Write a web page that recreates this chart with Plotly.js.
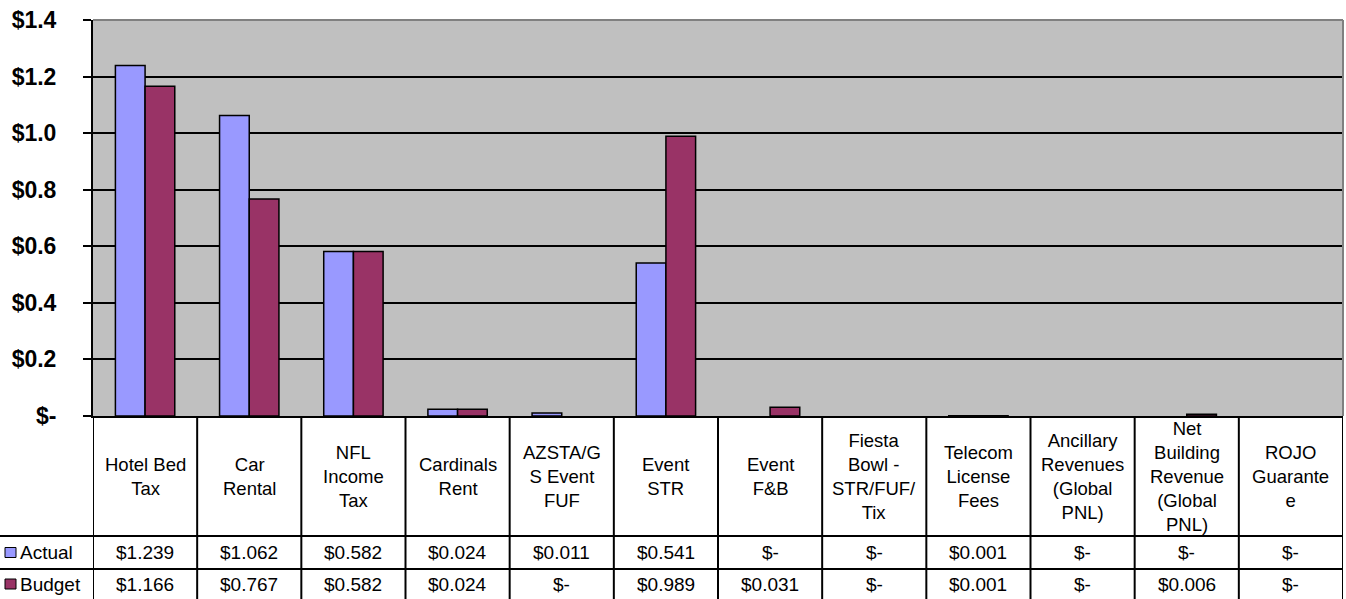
<!DOCTYPE html>
<html>
<head>
<meta charset="utf-8">
<script src="https://cdn.plot.ly/plotly-3.0.1.min.js"></script>
<style>html,body{margin:0;padding:0;background:#fff;}#chart{width:1346px;height:599px;}</style>
</head>
<body>
<div id="chart"></div>
<script>
const categories = ["Hotel Bed Tax","Car Rental","NFL Income Tax","Cardinals Rent","AZSTA/GS Event FUF","Event STR","Event F&B","Fiesta Bowl - STR/FUF/Tix","Telecom License Fees","Ancillary Revenues (Global PNL)","Net Building Revenue (Global PNL)","ROJO Guarantee"];
const headerLabels = ["Hotel Bed<br>Tax","Car<br>Rental","NFL<br>Income<br>Tax","Cardinals<br>Rent","AZSTA/G<br>S Event<br>FUF","Event<br>STR","Event<br>F&B","Fiesta<br>Bowl -<br>STR/FUF/<br>Tix","Telecom<br>License<br>Fees","Ancillary<br>Revenues<br>(Global<br>PNL)","Net<br>Building<br>Revenue<br>(Global<br>PNL)","ROJO<br>Guarante<br>e"];
const actual = [1.239,1.062,0.582,0.024,0.011,0.541,0,0,0.001,0,0,0];
const budget = [1.166,0.767,0.582,0.024,0,0.989,0.031,0,0.001,0,0.006,0];
const seriesNames = ["Actual","Budget"];
const yTickVals = [0,0.2,0.4,0.6,0.8,1.0,1.2,1.4];

const colors = ["#9999FF","#993366"];
const W = 1346, H = 599, L = 93, R = 1343, T = 20, B = 416;
const xp = px => (px - L) / (R - L);
const yp = py => (B - py) / (B - T);
const fmt = v => v === 0 ? "$-" : "$" + v.toFixed(3);
const fam = "Arial, 'Liberation Sans', sans-serif";
const hFont = {family: fam, size: 18.5, color: "#000"};
const vFont = {family: fam, size: 19, color: "#000"};

const traces = [actual, budget].map((vals, k) => ({
  type: "bar", name: seriesNames[k], x: categories, y: vals,
  marker: {color: colors[k], line: {color: "#000", width: vals.map(v => v === 0 ? 0 : 1.5)}},
  hoverinfo: "skip"
}));

const shapes = [];
const annotations = [];
shapes.push({type:"line", xref:"paper", yref:"paper", x0:0, x1:1, y0:1, y1:1, line:{color:"#808080", width:2}});
shapes.push({type:"line", xref:"paper", yref:"paper", x0:1, x1:1, y0:0, y1:1, line:{color:"#808080", width:2}});
for (let i = 0; i <= categories.length; i++) {
  shapes.push({type:"line", xref:"x", yref:"paper", x0:i-0.5, x1:i-0.5, y0:yp(416), y1:yp(600), line:{color:"#000", width:2}});
}
[536, 569].forEach(py => shapes.push({type:"line", xref:"paper", yref:"paper", x0:xp(0), x1:1, y0:yp(py), y1:yp(py), line:{color:"#000", width:2}}));

const rowY = [552.5, 584];
categories.forEach((c, i) => {
  annotations.push({xref:"x", yref:"paper", x:i, y:yp(476), text:headerLabels[i], showarrow:false, xanchor:"center", yanchor:"middle", align:"center", font:hFont});
  [actual, budget].forEach((vals, k) => {
    annotations.push({xref:"x", yref:"paper", x:i, y:yp(rowY[k]), text:fmt(vals[i]), showarrow:false, xanchor:"center", yanchor:"middle", font:vFont});
  });
});
seriesNames.forEach((n, k) => {
  const cy = rowY[k];
  shapes.push({type:"rect", xref:"paper", yref:"paper", x0:xp(5), x1:xp(16), y0:yp(cy-5), y1:yp(cy+5), fillcolor:colors[k], line:{color:"#000", width:1}});
  annotations.push({xref:"paper", yref:"paper", x:xp(18), y:yp(cy), text:n, showarrow:false, xanchor:"left", yanchor:"middle", font:vFont});
});

const layout = {
  width: W, height: H,
  margin: {l: L, r: W - R, t: T, b: H - B, pad: 0},
  paper_bgcolor: "#fff", plot_bgcolor: "#C0C0C0",
  showlegend: false,
  barmode: "group", bargap: 0.43, bargroupgap: 0,
  xaxis: {type:"category", range:[-0.5, categories.length - 0.5], showticklabels:false, ticks:"", showgrid:false, showline:true, linecolor:"#000", linewidth:2, zeroline:false, fixedrange:true},
  yaxis: {range:[0,1.4], tickvals:yTickVals, ticktext:yTickVals.map(v => v === 0 ? "$-" : "$" + v.toFixed(1)),
    ticks:"outside", ticklen:8, tickwidth:2, tickcolor:"#000", ticklabelstandoff:22,
    tickfont:{family:fam, size:23, color:"#000", weight:"bold"},
    showgrid:true, gridcolor:"#000", gridwidth:2, showline:true, linecolor:"#000", linewidth:2, zeroline:false, fixedrange:true},
  shapes: shapes, annotations: annotations
};
Plotly.newPlot("chart", traces, layout, {staticPlot:true, displayModeBar:false});
</script>
</body>
</html>
